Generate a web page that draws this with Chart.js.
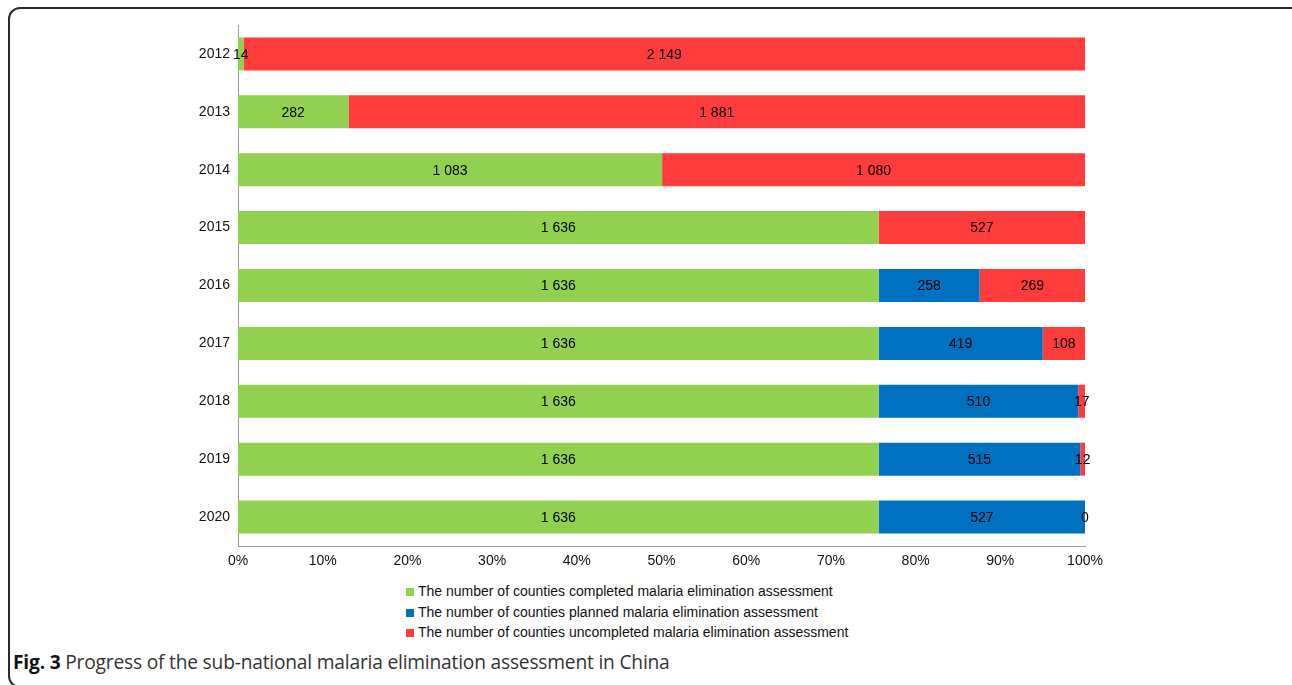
<!DOCTYPE html>
<html>
<head>
<meta charset="utf-8">
<script src="https://cdn.jsdelivr.net/npm/chart.js@4/dist/chart.umd.min.js"></script>
<style>
  html, body { margin: 0; padding: 0; background: #fff; }
  body { width: 1292px; height: 685px; position: relative; overflow: hidden; }
  #frame { position: absolute; left: 8px; top: 7px; width: 1310px; height: 681px;
           border: 2px solid #2a2a2a; border-radius: 12px; box-sizing: border-box; }
  #wrap { position: absolute; left: 0; top: 0; width: 1292px; height: 580px; }
  #legend { position: absolute; left: 406px; top: 581px; font-family: "Liberation Sans", Arial, sans-serif;
            font-size: 14px; color: #111; }
  #legend div { height: 20.5px; line-height: 20px; white-space: nowrap; }
  #legend span.box { display: inline-block; width: 8px; height: 8px; margin-right: 4px; vertical-align: 0px; }
  #caption { position: absolute; left: 13px; top: 648px; font-family: "Open Sans", "Noto Sans", sans-serif;
             font-size: 19.2px; color: #333; white-space: nowrap; letter-spacing: -0.2px; }
  #caption b { color: #111; }
</style>
</head>
<body>
<div id="frame"></div>
<div id="wrap"><canvas id="c" width="1292" height="580"></canvas></div>
<div id="legend"></div>
<div id="caption"><b>Fig. 3</b> Progress of the sub-national malaria elimination assessment in China</div>
<script>
const years = ['2012','2013','2014','2015','2016','2017','2018','2019','2020'];
const completed   = [14, 282, 1083, 1636, 1636, 1636, 1636, 1636, 1636];
const planned     = [0, 0, 0, 0, 258, 419, 510, 515, 527];
const uncompleted = [2149, 1881, 1080, 527, 269, 108, 17, 12, 0];
const seriesNames = [
  'The number of counties completed malaria elimination assessment',
  'The number of counties planned malaria elimination assessment',
  'The number of counties uncompleted malaria elimination assessment'
];
const seriesColors = ['#92D050', '#0070C0', '#FF3C3C'];
const xTicks = [0,10,20,30,40,50,60,70,80,90,100];

const raw = [completed, planned, uncompleted];
const totals = years.map((_, i) => completed[i] + planned[i] + uncompleted[i]);
const pct = arr => arr.map((v, i) => v / totals[i] * 100);
const fmt = v => String(v).replace(/\B(?=(\d{3})+(?!\d))/g, ' ');
const FONT = '"Liberation Sans", Arial, sans-serif';

const labelPlugin = {
  id: 'segLabels',
  afterDatasetsDraw(chart) {
    const ctx = chart.ctx;
    ctx.save();
    ctx.font = '14px ' + FONT;
    ctx.fillStyle = '#000';
    ctx.textAlign = 'center';
    ctx.textBaseline = 'middle';
    chart.data.datasets.forEach((ds, di) => {
      const meta = chart.getDatasetMeta(di);
      meta.data.forEach((el, i) => {
        const v = raw[di][i];
        if (di === 1 && v === 0) return;
        if (di === 2 && v === 0 && planned[i] === 0) return;
        const x = (el.x + el.base) / 2;
        ctx.fillText(fmt(v), x, el.y + 1);
      });
    });
    ctx.restore();
  }
};

new Chart(document.getElementById('c'), {
  type: 'bar',
  data: {
    labels: years,
    datasets: raw.map((arr, i) => ({
      label: seriesNames[i],
      data: pct(arr),
      backgroundColor: seriesColors[i],
      borderWidth: 0,
      barPercentage: 0.57,
      categoryPercentage: 1
    }))
  },
  options: {
    indexAxis: 'y',
    responsive: false,
    animation: false,
    layout: { padding: { top: 25, right: 207, left: 0, bottom: 0 } },
    plugins: { legend: { display: false }, tooltip: { enabled: false } },
    scales: {
      x: {
        stacked: true, min: 0, max: 100,
        afterFit: s => { s.height = 34; },
        afterBuildTicks: s => { s.ticks = xTicks.map(v => ({ value: v })); },
        grid: { display: false, drawTicks: false },
        border: { display: true, color: '#9a9a9a', width: 1 },
        ticks: { padding: 7, color: '#111', font: { family: FONT, size: 14 },
                 callback: v => v + '%', maxRotation: 0 }
      },
      y: {
        stacked: true,
        afterFit: s => { s.width = 238; },
        grid: { display: false, drawTicks: false },
        border: { display: true, color: '#9a9a9a', width: 1 },
        ticks: { padding: 8, color: '#111', font: { family: FONT, size: 14 } }
      }
    }
  },
  plugins: [labelPlugin]
});

const lg = document.getElementById('legend');
seriesNames.forEach((n, i) => {
  const d = document.createElement('div');
  d.innerHTML = '<span class="box" style="background:' + seriesColors[i] + '"></span>' + n;
  lg.appendChild(d);
});
</script>
</body>
</html>
